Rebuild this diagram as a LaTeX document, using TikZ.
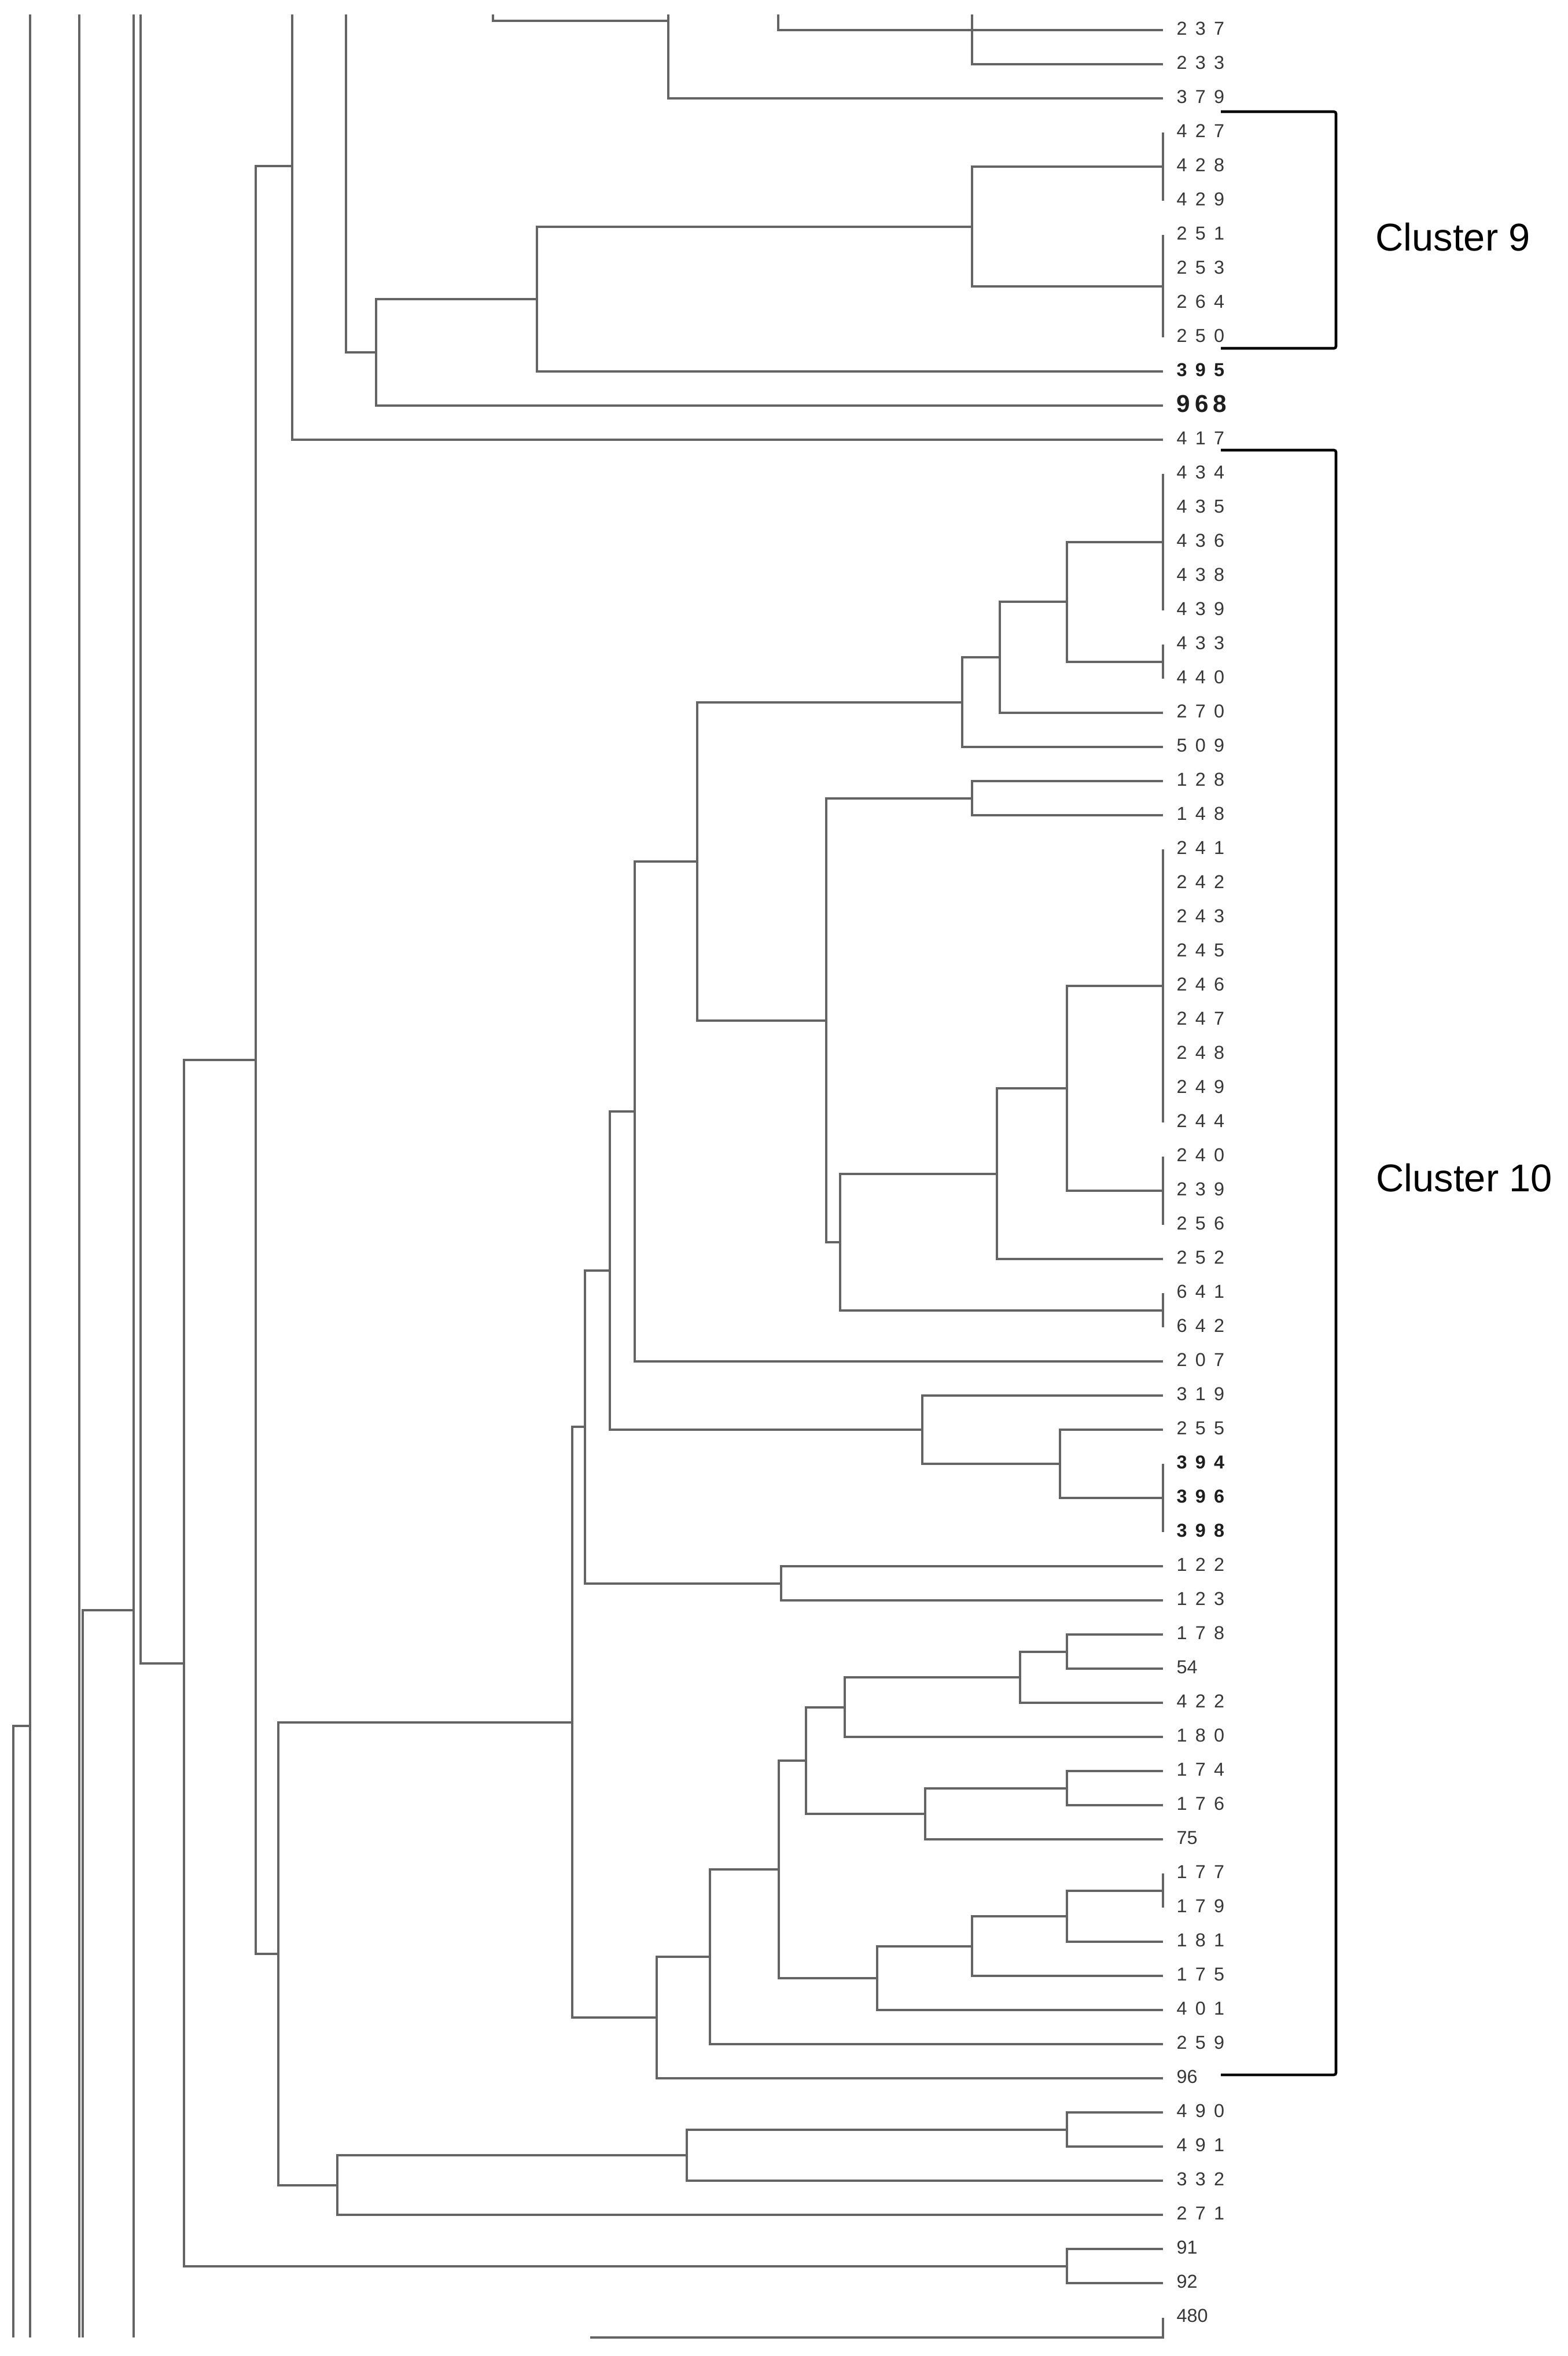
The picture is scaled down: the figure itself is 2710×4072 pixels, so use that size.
\documentclass[tikz,border=0pt]{standalone}
\usepackage{fontspec}
\setmainfont{Liberation Sans}
\newfontfamily\leaffont[LetterSpace=44]{Liberation Sans}
\newfontfamily\leafbigfont[LetterSpace=19]{Liberation Sans}
\usetikzlibrary{positioning}

\definecolor{treegray}{RGB}{100,100,100}
\definecolor{labelgray}{RGB}{55,55,55}
\definecolor{boldgray}{RGB}{30,30,30}

\begin{document}
\begin{tikzpicture}[x=0.01cm, y=-0.01cm,
    branch/.style={draw=treegray, line width=0.9pt},
    bracket/.style={draw=black, line width=1.3pt, rounded corners=1pt},
    leaf/.style={anchor=west, inner sep=0pt, text=labelgray, font=\leaffont\fontsize{9.2}{10}\selectfont},
    leafbold/.style={leaf, text=boldgray, font=\leaffont\bfseries\fontsize{9.2}{10}\selectfont},
    leafbig/.style={leaf, text=boldgray, font=\leafbigfont\bfseries\fontsize{12}{14}\selectfont},
    leafplain/.style={leaf, font=\fontsize{9.2}{10}\selectfont},
    clusterlabel/.style={anchor=west, inner sep=0pt, font=\fontsize{19}{22}\selectfont}]
      %\draw[help lines] (0,0) grid[step=100] (2710,4072);
      \fill[white] (0,0) rectangle (2710,4072);
      \useasboundingbox (0,0) rectangle (2710,4072);

      % leaf labels, one row every 59
      \foreach \lab/\kind [count=\i from 0] in {237/leaf, 233/leaf, 379/leaf, 427/leaf, 428/leaf, 429/leaf,
          251/leaf, 253/leaf, 264/leaf, 250/leaf, 395/leafbold, 968/leafbig, 417/leaf,
          434/leaf, 435/leaf, 436/leaf, 438/leaf, 439/leaf, 433/leaf, 440/leaf, 270/leaf, 509/leaf,
          128/leaf, 148/leaf, 241/leaf, 242/leaf, 243/leaf, 245/leaf, 246/leaf, 247/leaf, 248/leaf,
          249/leaf, 244/leaf, 240/leaf, 239/leaf, 256/leaf, 252/leaf, 641/leaf, 642/leaf, 207/leaf,
          319/leaf, 255/leaf, 394/leafbold, 396/leafbold, 398/leafbold, 122/leaf, 123/leaf,
          178/leaf, 54/leafplain, 422/leaf, 180/leaf, 174/leaf, 176/leaf, 75/leafplain,
          177/leaf, 179/leaf, 181/leaf, 175/leaf, 401/leaf, 259/leaf, 96/leafplain,
          490/leaf, 491/leaf, 332/leaf, 271/leaf, 91/leafplain, 92/leafplain, 480/leafplain}
        \node[\kind] (leaf\lab) at (2033, 49+59*\i) {\lab};

      % cut-off branches at the top
      \draw[branch] (852,25) |- (1155,36);
      \draw[branch] (1155,25) |- (2010,170);
      \draw[branch] (1345,25) |- (2010,52);
      \draw[branch] (1680,25) |- (2010,111);

      % cluster 9 part
      \draw[branch] (2010,229) -- (2010,347);
      \draw[branch] (2010,406) -- (2010,583);
      \draw[branch] (2010,288) -| (1680,495) -- (2010,495);
      \draw[branch] (1680,392) -| (928,642) -- (2010,642);
      \draw[branch] (928,517) -| (650,701) -- (2010,701);
      \draw[branch] (598,25) |- (650,609);
      \draw[branch] (505,25) |- (2010,760);
      \draw[branch] (505,287) -| (442,3377) -- (481,3377);

      % cluster 10 part
      \draw[branch] (2010,819) -- (2010,1055);
      \draw[branch] (2010,1114) -- (2010,1173);
      \draw[branch] (2010,937) -| (1844,1144) -- (2010,1144);
      \draw[branch] (1844,1040) -| (1728,1232) -- (2010,1232);
      \draw[branch] (1728,1136) -| (1663,1291) -- (2010,1291);
      \draw[branch] (2010,1350) -| (1680,1409) -- (2010,1409);
      \draw[branch] (2010,1468) -- (2010,1940);
      \draw[branch] (2010,1999) -- (2010,2117);
      \draw[branch] (2010,1704) -| (1844,2058) -- (2010,2058);
      \draw[branch] (1844,1881) -| (1723,2176) -- (2010,2176);
      \draw[branch] (2010,2235) -- (2010,2294);
      \draw[branch] (1723,2029) -| (1452,2265) -- (2010,2265);
      \draw[branch] (1680,1380) -| (1428,2147) -- (1452,2147);
      \draw[branch] (1663,1214) -| (1205,1764) -- (1428,1764);
      \draw[branch] (1205,1489) -| (1097,2353) -- (2010,2353);
      \draw[branch] (2010,2530) -- (2010,2648);
      \draw[branch] (2010,2471) -| (1832,2589) -- (2010,2589);
      \draw[branch] (2010,2412) -| (1594,2530) -- (1832,2530);
      \draw[branch] (1097,1921) -| (1054,2471) -- (1594,2471);
      \draw[branch] (2010,2707) -| (1350,2766) -- (2010,2766);
      \draw[branch] (1054,2196) -| (1011,2737) -- (1350,2737);
      \draw[branch] (2010,2825) -| (1844,2884) -- (2010,2884);
      \draw[branch] (1844,2855) -| (1763,2943) -- (2010,2943);
      \draw[branch] (1763,2899) -| (1460,3002) -- (2010,3002);
      \draw[branch] (2010,3061) -| (1844,3120) -- (2010,3120);
      \draw[branch] (1844,3091) -| (1599,3179) -- (2010,3179);
      \draw[branch] (1460,2951) -| (1393,3135) -- (1599,3135);
      \draw[branch] (2010,3238) -- (2010,3297);
      \draw[branch] (2010,3268) -| (1844,3356) -- (2010,3356);
      \draw[branch] (1844,3312) -| (1680,3415) -- (2010,3415);
      \draw[branch] (1680,3364) -| (1516,3474) -- (2010,3474);
      \draw[branch] (1393,3043) -| (1346,3419) -- (1516,3419);
      \draw[branch] (1346,3231) -| (1227,3533) -- (2010,3533);
      \draw[branch] (1227,3382) -| (1135,3592) -- (2010,3592);
      \draw[branch] (1011,2466) -| (989,3487) -- (1135,3487);

      % bottom part
      \draw[branch] (2010,3651) -| (1844,3710) -- (2010,3710);
      \draw[branch] (1844,3681) -| (1187,3769) -- (2010,3769);
      \draw[branch] (1187,3725) -| (583,3828) -- (2010,3828);
      \draw[branch] (989,2977) -| (481,3777) -- (583,3777);
      \draw[branch] (2010,3887) -| (1844,3946) -- (2010,3946);
      \draw[branch] (442,1832) -| (318,3917) -- (1844,3917);
      \draw[branch] (1020,4040) -| (2010,4006);

      % long stems on the left
      \draw[branch] (243,25) |- (318,2875);
      \draw[branch] (231,25) -- (231,4040);
      \draw[branch] (143,4040) |- (231,2783);
      \draw[branch] (137,25) -- (137,4040);
      \draw[branch] (52,25) -- (52,4040);
      \draw[branch] (23,4040) |- (52,2983);

      % clusters
      \draw[bracket] (2110,193) -| (2309,602) -- (2110,602);
      \node[clusterlabel] (cl9) at (2377,410) {Cluster 9};
      \draw[bracket] (2110,778) -| (2309,3586) -- (2110,3586);
      \node[clusterlabel] (cl10) at (2378,2036) {Cluster 10};

\end{tikzpicture}
\end{document}
